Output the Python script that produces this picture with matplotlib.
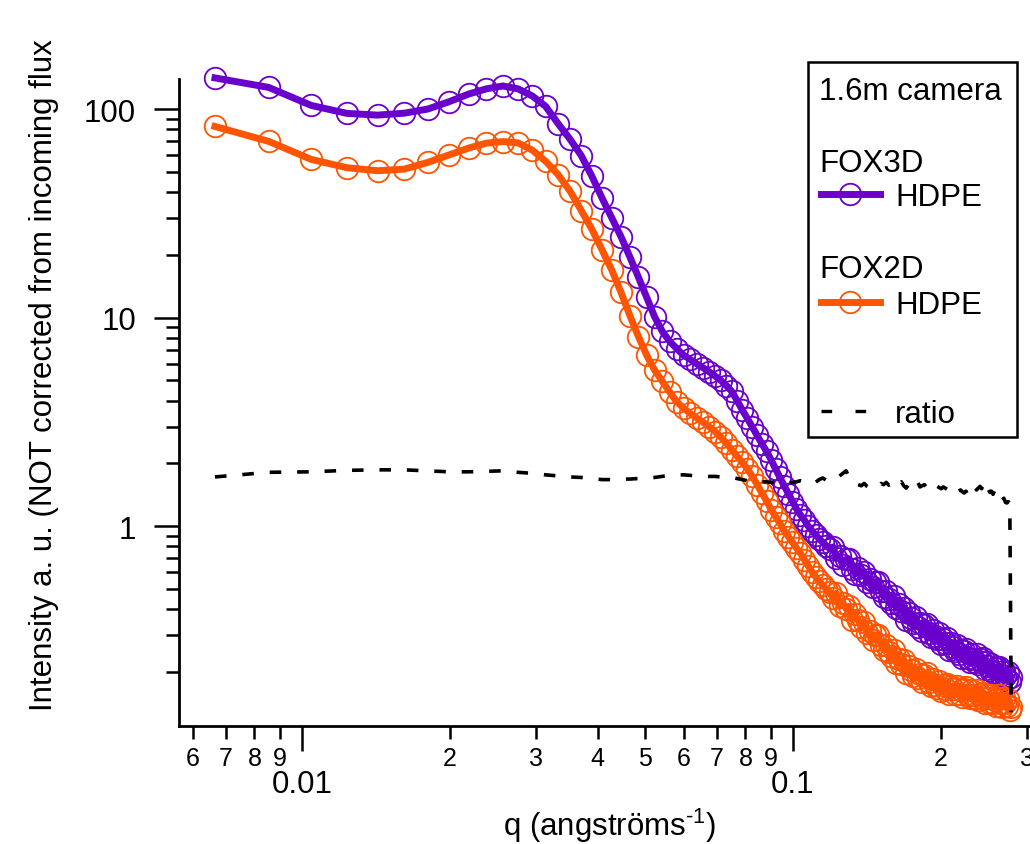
import numpy as np
import matplotlib
matplotlib.use("Agg")
import matplotlib.pyplot as plt
from matplotlib.ticker import FixedLocator, FuncFormatter, NullFormatter, LogLocator
from matplotlib.lines import Line2D
from matplotlib.patches import Rectangle

plt.rcParams['font.family'] = ['Liberation Sans', 'DejaVu Sans']
plt.rcParams['mathtext.default'] = 'regular'

# ---------------- data ----------------
q = [0.00665, 0.00855, 0.01045, 0.01235, 0.01425, 0.01615, 0.01805, 0.01995, 0.02185, 0.02375,
     0.02565, 0.02755, 0.02945, 0.03135, 0.03325, 0.03515, 0.03705, 0.03895, 0.04085, 0.04275,
     0.04465, 0.04655, 0.04845, 0.05035, 0.05225, 0.05415, 0.05605, 0.05795, 0.05985, 0.06175,
     0.06365, 0.06555, 0.06745, 0.06935, 0.07125, 0.07315, 0.07505, 0.07695, 0.07885, 0.08075,
     0.08265, 0.08455, 0.08645, 0.08835, 0.09025, 0.09215, 0.09405, 0.09595, 0.09785, 0.09975,
     0.10165, 0.10355, 0.10545, 0.10735, 0.10925, 0.11115, 0.11305, 0.11495, 0.11685, 0.11875,
     0.12065, 0.12255, 0.12445, 0.12635, 0.12825, 0.13015, 0.13205, 0.13395, 0.13585, 0.13775,
     0.13965, 0.14155, 0.14345, 0.14535, 0.14725, 0.14915, 0.15105, 0.15295, 0.15485, 0.15675,
     0.15865, 0.16055, 0.16245, 0.16435, 0.16625, 0.16815, 0.17005, 0.17195, 0.17385, 0.17575,
     0.17765, 0.17955, 0.18145, 0.18335, 0.18525, 0.18715, 0.18905, 0.19095, 0.19285, 0.19475,
     0.19665, 0.19855, 0.20045, 0.20235, 0.20425, 0.20615, 0.20805, 0.20995, 0.21185, 0.21375,
     0.21565, 0.21755, 0.21945, 0.22135, 0.22325, 0.22515, 0.22705, 0.22895, 0.23085, 0.23275,
     0.23465, 0.23655, 0.23845, 0.24035, 0.24225, 0.24415, 0.24605, 0.24795, 0.24985, 0.25175,
     0.25365, 0.25555, 0.25745, 0.25935, 0.26125, 0.26315, 0.26505, 0.26695, 0.26885, 0.27075,
     0.27265, 0.27455, 0.27645, 0.27835]

fox3d_hdpe = [141, 127, 104, 95.3, 93.5, 95.5, 100, 108.5, 118, 125,
              129, 125, 115.5, 103, 85, 71.7, 59.8, 47.6, 37.4, 30.1,
              24.4, 19.5, 15.6, 12.5, 10.1, 8.6, 7.7, 7.1, 6.6, 6.3,
              6.0, 5.75, 5.5, 5.25, 5.0, 4.72, 4.42, 4.0, 3.6, 3.28,
              2.98, 2.72, 2.48, 2.28, 2.08, 1.88, 1.71, 1.56, 1.43, 1.31,
              1.21, 1.13, 1.07, 1.0, 0.95, 0.905, 0.87, 0.835, 0.805, 0.78,
              0.793, 0.699, 0.715, 0.649, 0.692, 0.693, 0.624, 0.589, 0.628, 0.583,
              0.603, 0.542, 0.559, 0.508, 0.541, 0.542, 0.487, 0.459, 0.487, 0.449,
              0.428, 0.461, 0.403, 0.421, 0.393, 0.405, 0.355, 0.381, 0.363, 0.342,
              0.365, 0.329, 0.342, 0.313, 0.337, 0.339, 0.308, 0.294, 0.316, 0.296,
              0.286, 0.307, 0.272, 0.288, 0.276, 0.289, 0.255, 0.276, 0.264, 0.251,
              0.270, 0.244, 0.254, 0.233, 0.252, 0.257, 0.234, 0.224, 0.243, 0.230,
              0.224, 0.243, 0.217, 0.231, 0.222, 0.233, 0.206, 0.224, 0.214, 0.204,
              0.219, 0.200, 0.208, 0.192, 0.208, 0.212, 0.194, 0.186, 0.202, 0.190,
              0.185, 0.200, 0.178, 0.188]

fox2d_hdpe = [82.5, 70, 57.3, 52.3, 50.6, 51.5, 55.5, 60.3, 65, 68.6,
              69.8, 68.8, 63.5, 56.2, 48.4, 40.4, 32.6, 26.5, 21.1, 16.9,
              13.2, 10.2, 8.1, 6.6, 5.6, 4.95, 4.4, 3.95, 3.68, 3.47,
              3.3, 3.15, 3.0, 2.84, 2.68, 2.5, 2.32, 2.16, 2.02, 1.88,
              1.73, 1.58, 1.44, 1.32, 1.2, 1.11, 1.03, 0.95, 0.89, 0.835,
              0.785, 0.74, 0.69, 0.645, 0.605, 0.572, 0.545, 0.52, 0.5, 0.482,
              0.451, 0.476, 0.412, 0.428, 0.402, 0.412, 0.356, 0.377, 0.353, 0.327,
              0.347, 0.307, 0.313, 0.283, 0.301, 0.301, 0.270, 0.255, 0.270, 0.250,
              0.239, 0.254, 0.221, 0.231, 0.218, 0.227, 0.198, 0.213, 0.203, 0.191,
              0.207, 0.187, 0.195, 0.179, 0.194, 0.197, 0.179, 0.171, 0.184, 0.173,
              0.167, 0.181, 0.162, 0.172, 0.166, 0.175, 0.156, 0.170, 0.165, 0.157,
              0.171, 0.156, 0.163, 0.151, 0.165, 0.169, 0.155, 0.149, 0.163, 0.154,
              0.150, 0.164, 0.146, 0.156, 0.150, 0.159, 0.141, 0.155, 0.149, 0.142,
              0.155, 0.141, 0.147, 0.137, 0.149, 0.154, 0.141, 0.136, 0.149, 0.141,
              0.137, 0.148, 0.131, 0.135]

ratio = [1.72, 1.81, 1.82, 1.85, 1.86, 1.86, 1.84, 1.82, 1.82, 1.83,
         1.84, 1.81, 1.79, 1.76, 1.74, 1.72, 1.71, 1.69, 1.67, 1.67,
         1.68, 1.68, 1.69, 1.70, 1.71, 1.73, 1.75, 1.76, 1.76, 1.75,
         1.74, 1.74, 1.73, 1.73, 1.72, 1.72, 1.71, 1.69, 1.67, 1.65,
         1.64, 1.64, 1.63, 1.63, 1.62, 1.63, 1.63, 1.62, 1.61, 1.62,
         1.63, 1.65, 1.63, 1.64, 1.66, 1.62, 1.67, 1.70, 1.66, 1.68,
         1.72, 1.69, 1.74, 1.79, 1.84, 1.72, 1.63, 1.60, 1.58, 1.56,
         1.60, 1.55, 1.52, 1.54, 1.57, 1.55, 1.60, 1.58, 1.62, 1.57,
         1.59, 1.62, 1.55, 1.60, 1.63, 1.56, 1.52, 1.58, 1.62, 1.55,
         1.57, 1.62, 1.54, 1.56, 1.58, 1.53, 1.56, 1.59, 1.54, 1.52,
         1.55, 1.53, 1.51, 1.54, 1.52, 1.50, 1.53, 1.49, 1.51, 1.48,
         1.50, 1.47, 1.49, 1.46, 1.44, 1.47, 1.41, 1.39, 1.45, 1.50,
         1.53, 1.49, 1.52, 1.55, 1.51, 1.58, 1.53, 1.59, 1.50, 1.45,
         1.47, 1.42, 1.48, 1.40, 1.37, 1.39, 1.35, 1.33, 1.36, 1.30,
         1.29, 1.31, 1.27, 0.128]

x_major = [0.01, 0.1]
y_major = [1, 10, 100]

PURPLE = '#6a00cc'
ORANGE = '#ff5500'
FS = 22.5
LW = 5.0
MS = 15.5
MEW = 1.3

# ---------------- figure ----------------
W, H = 1030, 845
fig = plt.figure(figsize=(W / 100, H / 100), dpi=100)
L, R, B, T = 179, 1029, 727, 79.5
ax = fig.add_axes([L / W, 1 - B / H, (R - L) / W, (B - T) / H])
ax.set_xscale('log')
ax.set_yscale('log')
ax.set_xlim(0.005617, 0.3025)
ax.set_ylim(0.1099, 140.1)

for s in ('top', 'right'):
    ax.spines[s].set_visible(False)
for s in ('left', 'bottom'):
    ax.spines[s].set_linewidth(2.0)

ax.plot(q, fox3d_hdpe, color=PURPLE, lw=LW, marker='o', ms=MS, mfc='none',
        mec=PURPLE, mew=MEW, clip_on=False, zorder=3)
ax.plot(q, fox2d_hdpe, color=ORANGE, lw=LW, marker='o', ms=MS, mfc='none',
        mec=ORANGE, mew=MEW, clip_on=False, zorder=3)
ax.plot(q, ratio, color='black', lw=2.6, ls=(0, (3.2, 4.4)),
        dash_capstyle='butt', zorder=4)

# ticks
ax.xaxis.set_major_locator(FixedLocator(x_major))
ax.xaxis.set_major_formatter(FuncFormatter(lambda v, p: f'{v:g}'))
ax.xaxis.set_minor_locator(LogLocator(base=10, subs=np.arange(2, 10), numticks=30))
ax.xaxis.set_minor_formatter(FuncFormatter(
    lambda v, p: f'{int(round(v / 10 ** np.floor(np.log10(v) + 1e-9)))}'))
ax.yaxis.set_major_locator(FixedLocator(y_major))
ax.yaxis.set_major_formatter(FuncFormatter(lambda v, p: f'{v:g}'))
ax.yaxis.set_minor_locator(LogLocator(base=10, subs=np.arange(2, 10), numticks=30))
ax.yaxis.set_minor_formatter(NullFormatter())

ax.tick_params(which='major', direction='out', length=18, width=1.8,
               labelsize=FS, pad=13, color='black')
ax.tick_params(which='minor', direction='out', length=9.5, width=1.8, color='black')
ax.tick_params(axis='x', which='minor', labelsize=18, pad=5)

# axis titles
ax.set_xlabel('q (angströms$^{\u2010' + '1}$)', fontsize=FS)
ax.xaxis.set_label_coords((610 - L) / (R - L), (B - 826) / (B - T))
ax.xaxis.label.set_verticalalignment('center')
ax.set_ylabel('Intensity a. u. (NOT corrected from incoming flux', fontsize=FS)
ax.yaxis.set_label_coords((44 - L) / (R - L), (B - 375) / (B - T))
ax.yaxis.label.set_verticalalignment('center')

# ---------------- legend box (figure pixel coordinates) ----------------
def fx(x):
    return x / W


def fy(y):
    return 1 - y / H


fig.add_artist(Rectangle((fx(808), fy(438)), (1017 - 808) / W, (438 - 62.7) / H,
                         transform=fig.transFigure, fill=False, lw=1.8,
                         ec='black', zorder=5))
fig.text(fx(819), fy(88), '1.6m camera', fontsize=FS, ha='left', va='center_baseline')
fig.text(fx(819), fy(161), 'FOX3D', fontsize=FS, ha='left', va='center_baseline')
fig.text(fx(819), fy(267), 'FOX2D', fontsize=FS, ha='left', va='center_baseline')
for yy, col in ((195, PURPLE), (303, ORANGE)):
    fig.add_artist(Line2D([fx(820.7), fx(880)], [fy(yy), fy(yy)], color=col, lw=LW,
                          transform=fig.transFigure))
    fig.add_artist(Line2D([fx(850)], [fy(yy)], color=col, ls='none', marker='o', ms=MS,
                          mfc='none', mec=col, mew=MEW, transform=fig.transFigure))
    fig.text(fx(895), fy(yy), 'HDPE', fontsize=FS, ha='left', va='center_baseline')
fig.add_artist(Line2D([fx(820.5), fx(878)], [fy(411.7), fy(411.7)], color='black', lw=2.4,
                      ls=(0, (3.2, 7.0)), dash_capstyle='butt', transform=fig.transFigure))
fig.text(fx(895), fy(411.7), 'ratio', fontsize=FS, ha='left', va='center_baseline')

fig.savefig('out.png', dpi=100)
